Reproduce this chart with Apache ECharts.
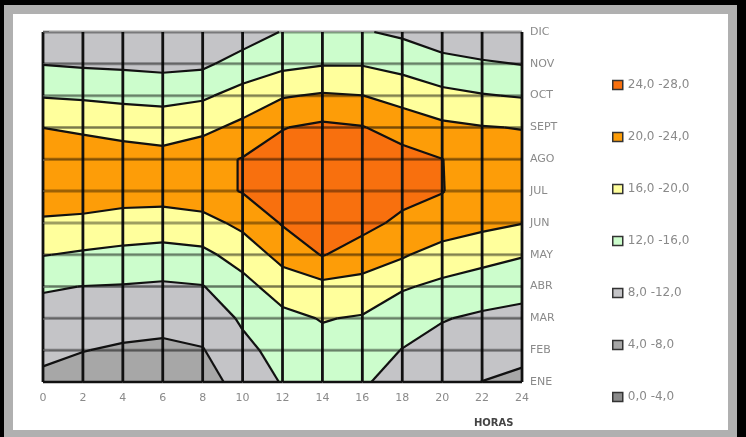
<!DOCTYPE html>
<html>
<head>
<meta charset="utf-8">
<script src="https://cdn.jsdelivr.net/npm/echarts@6/dist/echarts.min.js"></script>
<style>
  html, body { margin: 0; padding: 0; background: #000; }
  #frame { position: absolute; left: 4px; top: 5px; width: 733px; height: 432px; background: #b0b0b0; }
  #paper { position: absolute; left: 13px; top: 14px; width: 715px; height: 416px; background: #fff; }
  #chart { position: absolute; left: 0; top: 0; width: 746px; height: 437px; }
</style>
</head>
<body>
<div id="frame"></div>
<div id="paper"></div>
<div id="chart"></div>
<script>
// Hour columns (x) and month rows (y, ENE at the bottom)
const hours = [0, 2, 4, 6, 8, 10, 12, 14, 16, 18, 20, 22, 24];
const months = ['ENE', 'FEB', 'MAR', 'ABR', 'MAY', 'JUN', 'JUL', 'AGO', 'SEPT', 'OCT', 'NOV', 'DIC'];

// Temperature (°C) for each month, one value per hour column
const ene  = [7.2, 6.2, 5.38, 5.03, 5.78, 10.0, 12.2, 13.5, 12.3, 10.97, 9.2, 7.95, 7.15];
const feb  = [8.83, 8.11, 7.51, 7.18, 7.8, 11.12, 13.2, 14.8, 13.98, 11.88, 10.65, 9.69, 9.03];
const mar  = [10.5, 10.03, 9.64, 9.33, 9.82, 12.48, 15.0, 16.2, 15.66, 13.94, 12.21, 11.39, 10.91];
const abr  = [12.38, 11.94, 11.77, 11.48, 11.84, 14.75, 17.8, 18.9, 18.67, 16.36, 15.27, 14.03, 13.24];
const may  = [16.13, 15.53, 15.02, 14.62, 15.12, 17.54, 21.33, 24.22, 22.0, 20.49, 18.0, 17.38, 16.27];
const jun  = [19.38, 18.95, 18.41, 18.16, 18.6, 21.0, 24.3, 25.5, 25.33, 23.05, 22.8, 21.02, 20.12];
const jul  = [22.5, 22.6, 21.8, 21.77, 22.6, 24.2, 26.0, 27.0, 26.5, 25.5, 24.1, 22.5, 22.0];
const ago  = [22.5, 22.8, 21.9, 21.3, 22.6, 24.2, 25.5, 26.5, 26.0, 25.5, 24.05, 22.5, 22.0];
const sept = [19.96, 19.19, 18.57, 18.2, 19.02, 21.03, 23.85, 24.79, 24.21, 22.23, 20.85, 20.2, 19.84];
const oct  = [15.73, 15.48, 15.11, 14.85, 15.42, 17.42, 19.67, 20.42, 20.05, 18.64, 17.02, 16.24, 15.73];
const nov  = [11.88, 11.48, 11.27, 10.89, 11.25, 13.64, 14.97, 15.72, 15.74, 14.65, 13.27, 12.48, 11.88];
const dic  = [9.0, 9.0, 9.0, 9.0, 9.5, 9.9, 12.2, 12.8, 12.3, 11.3, 9.63, 8.75, 9.0];

// Temperature bands, listed as in the legend (warmest first)
const bandNames  = ['24,0 -28,0', '20,0 -24,0', '16,0 -20,0', '12,0 -16,0', '8,0 -12,0', '4,0 -8,0', '0,0 -4,0'];
const bandLow    = [24, 20, 16, 12, 8, 4, 0];
const bandHigh   = [28, 24, 20, 16, 12, 8, 4];
const bandColors = ['#f8700e', '#fd9d08', '#ffff9c', '#ccfdcc', '#c4c4c7', '#a7a7a7', '#8a8a8a'];
const contourLevels = [4, 8, 12, 16, 20, 24];

const grid = [ene, feb, mar, abr, may, jun, jul, ago, sept, oct, nov, dic];

// Half the width of the dark hour gridlines, in pixels
const HALF_COLUMN_LINE = 1.4;

// One item per grid cell: [hour at left edge, month index at bottom edge]
const cells = [];
for (let j = 0; j < months.length - 1; j++) {
  for (let i = 0; i < hours.length - 1; i++) cells.push([hours[i], j]);
}

function cellCorners(h, j) {
  const i = hours.indexOf(h);
  const h1 = hours[i + 1];
  return [
    [h, j, grid[j][i]],
    [h1, j, grid[j][i + 1]],
    [h1, j + 1, grid[j + 1][i + 1]],
    [h, j + 1, grid[j + 1][i]]
  ];
}

// Clip a polygon (vertices carry a value) against a level, interpolating along edges
function clipPoly(poly, level, keepAbove) {
  const out = [];
  for (let k = 0; k < poly.length; k++) {
    const a = poly[k], b = poly[(k + 1) % poly.length];
    const ina = keepAbove ? a[2] >= level : a[2] <= level;
    const inb = keepAbove ? b[2] >= level : b[2] <= level;
    if (ina) out.push(a);
    if (ina !== inb) {
      const t = (level - a[2]) / (b[2] - a[2]);
      out.push([a[0] + t * (b[0] - a[0]), a[1] + t * (b[1] - a[1]), level]);
    }
  }
  return out;
}

// Dark backing under the plot: it shows through as the hour gridlines
function backingRenderer(params, api) {
  const a = api.coord([hours[0], 0]);
  const b = api.coord([hours[hours.length - 1], months.length - 1]);
  return {
    type: 'rect',
    shape: { x: a[0] - HALF_COLUMN_LINE, y: b[1], width: b[0] - a[0] + 2 * HALF_COLUMN_LINE, height: a[1] - b[1] },
    style: { fill: '#111' }
  };
}

// Band fill inside one cell, kept clear of the cell's left and right gridlines
function bandRenderer(b) {
  return function (params, api) {
    const h = api.value(0), j = api.value(1);
    const corners = cellCorners(h, j);
    let poly = clipPoly(corners, bandLow[b], true);
    poly = clipPoly(poly, bandHigh[b], false);
    if (poly.length < 3) return { type: 'group', children: [] };
    const xl = api.coord([h, j])[0] + HALF_COLUMN_LINE;
    const xr = api.coord([h + 2, j])[0] - HALF_COLUMN_LINE;
    const pts = poly.map(p => {
      const q = api.coord([p[0], p[1]]);
      return [Math.min(Math.max(q[0], xl), xr), q[1]];
    });
    return { type: 'polygon', shape: { points: pts }, style: { fill: bandColors[b] } };
  };
}

function segment(p, q, stroke, width) {
  return {
    type: 'line',
    shape: { x1: p[0], y1: p[1], x2: q[0], y2: q[1] },
    style: { stroke: stroke, lineWidth: width }
  };
}

// Horizontal gridline along the bottom of each cell row (plus the top edge)
function rowLineRenderer(params, api) {
  const h = api.value(0), j = api.value(1);
  const kids = [segment(api.coord([h, j]), api.coord([h + 2, j]),
                        j === 0 ? '#111' : 'rgba(0,0,0,0.38)', j === 0 ? 2.6 : 3)];
  if (j === months.length - 2) {
    kids.push(segment(api.coord([h, j + 1]), api.coord([h + 2, j + 1]), 'rgba(0,0,0,0.38)', 3));
  }
  return { type: 'group', children: kids };
}

// Contour line segments inside a cell (marching squares)
function contourRenderer(params, api) {
  const c = cellCorners(api.value(0), api.value(1));
  const kids = [];
  contourLevels.forEach(L => {
    const pts = [];
    for (let k = 0; k < 4; k++) {
      const a = c[k], b = c[(k + 1) % 4];
      if ((a[2] < L) !== (b[2] < L)) {
        const t = (L - a[2]) / (b[2] - a[2]);
        pts.push(api.coord([a[0] + t * (b[0] - a[0]), a[1] + t * (b[1] - a[1])]));
      }
    }
    if (pts.length === 2) kids.push(segment(pts[0], pts[1], '#111', 2.2));
    else if (pts.length === 4) {
      const centre = (c[0][2] + c[1][2] + c[2][2] + c[3][2]) / 4;
      if ((centre < L) === (c[0][2] < L)) {
        kids.push(segment(pts[0], pts[3], '#111', 2.2));
        kids.push(segment(pts[1], pts[2], '#111', 2.2));
      } else {
        kids.push(segment(pts[0], pts[1], '#111', 2.2));
        kids.push(segment(pts[2], pts[3], '#111', 2.2));
      }
    }
  });
  return { type: 'group', children: kids };
}

const series = [{
  name: 'backing', type: 'custom', z: 0,
  renderItem: backingRenderer,
  data: [[hours[0], 0]]
}];
bandNames.forEach((name, b) => series.push({
  name: name,
  type: 'custom',
  z: 1,
  renderItem: bandRenderer(b),
  itemStyle: { color: bandColors[b], borderColor: '#333', borderWidth: 1.5 },
  data: cells
}));
series.push({ name: 'rowLines', type: 'custom', z: 3, renderItem: rowLineRenderer, data: cells });
series.push({ name: 'contours', type: 'custom', z: 5, renderItem: contourRenderer, data: cells });

const chart = echarts.init(document.getElementById('chart'), null, { renderer: 'canvas' });
chart.setOption({
  animation: false,
  grid: { left: 43, right: 224, top: 32, bottom: 55 },
  xAxis: {
    type: 'value',
    min: 0, max: 24, interval: 2,
    name: 'HORAS',
    nameLocation: 'end',
    nameGap: -48,
    nameTextStyle: { fontFamily: 'DejaVu Sans', fontSize: 10, fontWeight: 'bold', color: '#444',
                     align: 'left', verticalAlign: 'top', padding: [36, 0, 0, 0] },
    axisLine: { show: false },
    axisTick: { show: false },
    axisLabel: { margin: 11, fontFamily: 'DejaVu Sans', fontSize: 11, color: '#8a8a8a' },
    splitLine: { show: false }
  },
  yAxis: {
    type: 'value',
    position: 'right',
    min: 0, max: months.length - 1, interval: 1,
    axisLine: { show: false },
    axisTick: { show: true, length: 6, lineStyle: { color: '#888', width: 1.5 } },
    axisLabel: { margin: 8, fontFamily: 'DejaVu Sans', fontSize: 11, color: '#8a8a8a',
                 formatter: v => months[v] },
    splitLine: { show: false }
  },
  legend: {
    data: bandNames,
    orient: 'vertical',
    left: 612, top: 78,
    padding: 0,
    itemWidth: 10, itemHeight: 9,
    itemGap: 38,
    icon: 'rect',
    selectedMode: false,
    itemStyle: { borderColor: '#333', borderWidth: 1.5 },
    textStyle: { fontFamily: 'DejaVu Sans', fontSize: 12, color: '#8a8a8a', lineHeight: 14 }
  },
  series: series
});
</script>
</body>
</html>
